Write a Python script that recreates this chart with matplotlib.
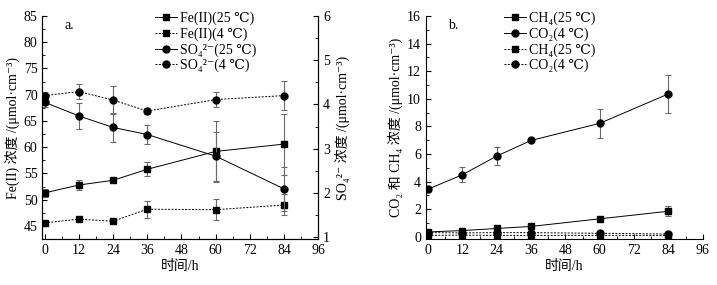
import matplotlib
matplotlib.use("Agg")
import matplotlib.pyplot as plt
from matplotlib.ticker import MultipleLocator

plt.rcParams['font.family'] = ['Liberation Serif', 'DejaVu Serif', 'Noto Sans CJK SC']
plt.rcParams['font.size'] = 10

# time points (h)
hours = [0, 12, 24, 36, 60, 84]

# panel a: Fe(II) on left axis, sulfate on right axis
fe_25 = [51.3, 52.8, 53.7, 55.8, 59.2, 60.6]
fe_25_err = [0.8, 0.9, 0.3, 1.3, 5.8, 5.8]
fe_4 = [45.6, 46.3, 45.9, 48.2, 48.1, 49.0]
fe_4_err = [0.3, 0.2, 0.3, 1.6, 2.0, 2.0]
so4_25 = [4.05, 3.74, 3.48, 3.32, 2.83, 2.09]
so4_25_err = [0.1, 0.3, 0.33, 0.22, 0.55, 0.5]
so4_4 = [4.20, 4.29, 4.10, 3.85, 4.11, 4.20]
so4_4_err = [0.08, 0.17, 0.32, 0.07, 0.17, 0.32]

# panel b: CO2 and CH4
co2_25 = [3.45, 4.5, 5.85, 6.98, 8.22, 10.35]
co2_25_err = [0.2, 0.55, 0.62, 0.1, 1.05, 1.4]
ch4_25 = [0.35, 0.45, 0.6, 0.75, 1.3, 1.85]
ch4_25_err = [0.05, 0.05, 0.08, 0.05, 0.05, 0.35]
ch4_4 = [0.1, 0.12, 0.1, 0.1, 0.1, 0.1]
ch4_4_err = [0.05, 0.05, 0.05, 0.05, 0.03, 0.03]
co2_4 = [0.3, 0.28, 0.3, 0.3, 0.25, 0.2]
co2_4_err = [0.05, 0.05, 0.05, 0.05, 0.03, 0.03]

x_ticks = [0, 12, 24, 36, 48, 60, 72, 84, 96]

solid = '-'
dotted = (0, (2, 1.5))
ecol = '#6a6a6a'


def series(ax, y, err, marker, ls, label):
    ax.errorbar(hours, y, yerr=err, fmt='none', ecolor=ecol, elinewidth=0.8,
                capsize=2.5, capthick=0.8, zorder=2)
    line, = ax.plot(hours, y, color='black', linestyle=ls, linewidth=0.7,
                    marker=marker, markersize=5, markerfacecolor='black',
                    markeredgecolor='black', label=label, zorder=3)
    return line


def style(ax):
    ax.tick_params(which='both', direction='in')
    ax.tick_params(which='major', length=3.5)
    ax.tick_params(which='minor', length=2)
    ax.spines['top'].set_visible(False)
    ax.set_xlim(-0.8, 96)
    ax.set_xticks(x_ticks)
    ax.xaxis.set_minor_locator(MultipleLocator(6))
    ax.set_xlabel('时间/h', labelpad=2)


fig = plt.figure(figsize=(7.17, 2.85), dpi=100)

# ---- panel a ----
ax1 = fig.add_axes([0.059, 0.161, 0.385, 0.783])
style(ax1)
ax1.set_ylim(42.5, 85)
ax1.yaxis.set_major_locator(MultipleLocator(5))
ax1.yaxis.set_minor_locator(MultipleLocator(2.5))
ax1.set_ylabel('Fe(II) 浓度 /(μmol·cm⁻³)', labelpad=2)

ax2 = ax1.twinx()
ax2.spines['top'].set_visible(False)
ax2.set_ylim(0.955, 6)
ax2.yaxis.set_major_locator(MultipleLocator(1))
ax2.yaxis.set_minor_locator(MultipleLocator(0.5))
ax2.tick_params(which='both', direction='in')
ax2.tick_params(which='major', length=3.5)
ax2.tick_params(which='minor', length=2)
ax2.set_ylabel('SO₄²⁻ 浓度 /(μmol·cm⁻³)', labelpad=4)

h1 = series(ax1, fe_25, fe_25_err, 's', solid, 'Fe(II)(25 ℃)')
h2 = series(ax1, fe_4, fe_4_err, 's', dotted, 'Fe(II)(4 ℃)')
h3 = series(ax2, so4_25, so4_25_err, 'o', solid, 'SO₄²⁻(25 ℃)')
h4 = series(ax2, so4_4, so4_4_err, 'o', dotted, 'SO₄²⁻(4 ℃)')
ax1.text(0.08, 0.985, 'a.', transform=ax1.transAxes, va='top', ha='left')
ax2.legend(handles=[h1, h2, h3, h4], loc='upper left',
           bbox_to_anchor=(155 / 717, 1 - 12 / 285), bbox_transform=fig.transFigure,
           frameon=False, handlelength=1.6, handletextpad=0.2, labelspacing=0.15,
           borderpad=0, borderaxespad=0, fontsize=10)

# ---- panel b ----
ax3 = fig.add_axes([0.594, 0.161, 0.386, 0.783])
style(ax3)
ax3.spines['right'].set_visible(False)
ax3.set_ylim(-0.17, 16)
ax3.yaxis.set_major_locator(MultipleLocator(2))
ax3.yaxis.set_minor_locator(MultipleLocator(1))
ax3.set_ylabel('CO₂ 和 CH₄ 浓度 /(μmol·cm⁻³)', labelpad=2)

g1 = series(ax3, ch4_25, ch4_25_err, 's', solid, 'CH₄(25 ℃)')
g2 = series(ax3, co2_25, co2_25_err, 'o', solid, 'CO₂(4 ℃)')
g3 = series(ax3, ch4_4, ch4_4_err, 's', dotted, 'CH₄(25 ℃)')
g4 = series(ax3, co2_4, co2_4_err, 'o', dotted, 'CO₂(4 ℃)')
ax3.text(0.08, 0.985, 'b.', transform=ax3.transAxes, va='top', ha='left')
ax3.legend(handles=[g1, g2, g3, g4], loc='upper left',
           bbox_to_anchor=(504 / 717, 1 - 12 / 285), bbox_transform=fig.transFigure,
           frameon=False, handlelength=1.6, handletextpad=0.2, labelspacing=0.15,
           borderpad=0, borderaxespad=0, fontsize=10)

fig.savefig('out.png', dpi=100)
